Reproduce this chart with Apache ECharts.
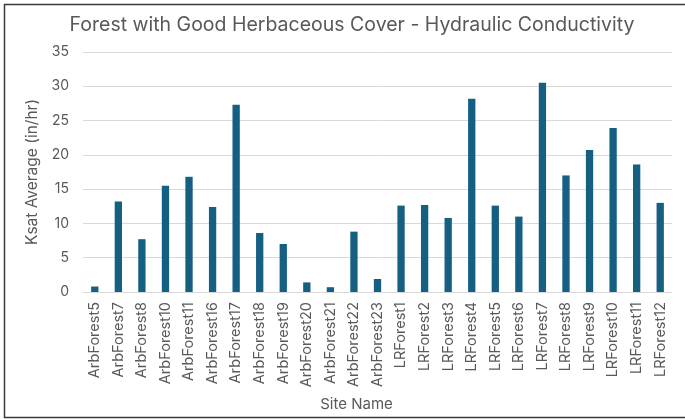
<!DOCTYPE html>
<html>
<head>
<meta charset="utf-8">
<script src="https://cdn.jsdelivr.net/npm/echarts@6/dist/echarts.min.js"></script>
<style>
  html, body { margin: 0; padding: 0; background: #fff; }
  #chart { width: 685px; height: 419px; }
</style>
</head>
<body>
<div id="chart"></div>
<script>
// Site names along the category axis
const sites = [
  'ArbForest5', 'ArbForest7', 'ArbForest8', 'ArbForest10', 'ArbForest11',
  'ArbForest16', 'ArbForest17', 'ArbForest18', 'ArbForest19', 'ArbForest20',
  'ArbForest21', 'ArbForest22', 'ArbForest23', 'LRForest1', 'LRForest2',
  'LRForest3', 'LRForest4', 'LRForest5', 'LRForest6', 'LRForest7',
  'LRForest8', 'LRForest9', 'LRForest10', 'LRForest11', 'LRForest12'
];

// Average saturated hydraulic conductivity per site (in/hr)
const ksatAverage = [
  0.8, 13.2, 7.7, 15.5, 16.8,
  12.4, 27.3, 8.6, 7.0, 1.4,
  0.7, 8.8, 1.9, 12.6, 12.7,
  10.8, 28.2, 12.6, 11.0, 30.5,
  17.0, 20.7, 23.9, 18.6, 13.0
];

const chartTitle = 'Forest with Good Herbaceous Cover - Hydraulic Conductivity';
const yAxisTitle = 'Ksat Average (in/hr)';
const xAxisTitle = 'Site Name';

const font = 'Inter, "Liberation Sans", Arial, sans-serif';
const textGray = '#595959';

const chart = echarts.init(document.getElementById('chart'), null, { renderer: 'canvas' });

chart.setOption({
  animation: false,
  backgroundColor: '#ffffff',
  title: {
    text: chartTitle,
    left: 347,
    textAlign: 'center',
    top: 10,
    textStyle: { fontFamily: font, fontSize: 19.5, fontWeight: 'normal', color: textGray }
  },
  graphic: [{
    type: 'rect',
    shape: { x: 4.5, y: 4.5, width: 700, height: 413 },
    style: { fill: 'none', stroke: '#3a3a3a', lineWidth: 1.5 },
    silent: true,
    z: 100
  }],
  grid: { left: 83, right: 13, top: 52, bottom: 127 },
  xAxis: {
    type: 'category',
    data: sites,
    name: xAxisTitle,
    nameLocation: 'middle',
    nameGap: 105,
    nameTextStyle: { fontFamily: font, fontSize: 15, color: textGray, padding: [0, 42, 0, 0] },
    axisLine: { lineStyle: { color: '#d9d9d9', width: 1 } },
    axisTick: { show: false },
    axisLabel: {
      rotate: 90,
      interval: 0,
      margin: 10,
      fontFamily: font,
      fontSize: 14.5,
      color: textGray
    }
  },
  yAxis: {
    type: 'value',
    min: 0,
    max: 35,
    interval: 5,
    name: yAxisTitle,
    nameLocation: 'middle',
    nameGap: 38,
    nameTextStyle: { fontFamily: font, fontSize: 15.5, color: textGray },
    axisLine: { show: false },
    axisTick: { show: false },
    axisLabel: { fontFamily: font, fontSize: 14, color: textGray, margin: 14 },
    splitLine: { lineStyle: { color: '#d9d9d9', width: 1 } }
  },
  series: [{
    type: 'bar',
    data: ksatAverage,
    barWidth: '31%',
    itemStyle: { color: '#156082' }
  }]
});
</script>
</body>
</html>
